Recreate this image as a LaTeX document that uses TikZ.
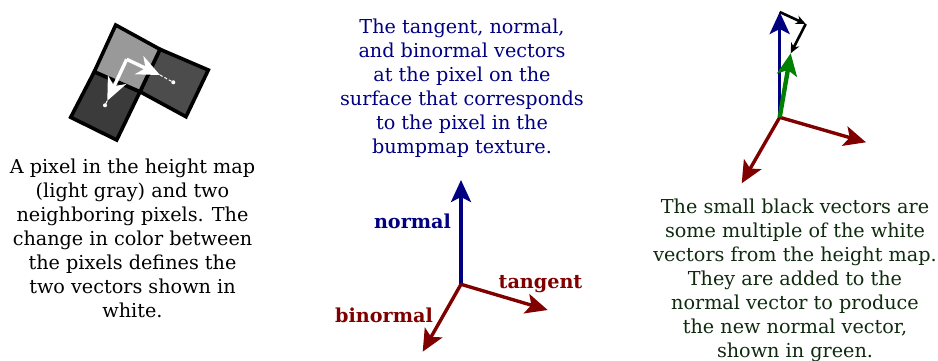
\documentclass[tikz,border=0pt]{standalone}
\usepackage{fontspec}
\setmainfont{DejaVu Serif}
\usetikzlibrary{arrows.meta}
\definecolor{navyblue}{HTML}{000080}
\definecolor{darkred}{HTML}{800000}
\definecolor{darkgreen}{HTML}{008000}
\definecolor{notetext}{HTML}{0F2A0F}
\tikzset{
  note/.style={align=center,inner sep=0pt,font=\fontsize{19.2}{24}\selectfont},
  axislabel/.style={inner sep=0pt,font=\fontsize{19.2}{24}\selectfont\bfseries},
  pixelbox/.style={draw=black,line width=3.6pt,line join=miter},
  whitevec/.style={draw=white,line width=3.4pt,-{Stealth[length=23pt,width=20pt,inset=7pt]}},
  axis/.style={line width=3.4pt,-{Stealth[length=22pt,width=20pt,inset=5pt]}},
  smallvec/.style={draw=black,line width=2.6pt,-{Stealth[length=10pt,width=9pt]}},
}
\begin{document}
\begin{tikzpicture}[x=1pt,y=-1pt]
  \useasboundingbox (0,0) rectangle (938,360);
  \filldraw[pixelbox,fill=black!77] (94.3,71.7) -- (140,91.7) -- (116.7,140) -- (70.7,117.3) -- cycle;
  \filldraw[pixelbox,fill=black!70] (160,49.3) -- (208.3,70) -- (186,116.7) -- (140,91.7) -- cycle;
  \filldraw[pixelbox,fill=black!40] (115.7,25) -- (160,49.3) -- (140,91.7) -- (94.3,71.7) -- cycle;
  \coordinate (corner) at (126.7,59.3);
  \coordinate (tipright) at (160,75);
  \coordinate (tipdown) at (107.3,100.7);
  \fill[white] (173.3,82.3) coordinate (dotright) circle (2pt);
  \fill[white] (105,105.3) coordinate (dotdown) circle (2pt);
  \draw[white,line width=1pt,densely dashed] (tipright) -- (dotright);
  \draw[white,line width=1pt] (tipdown) -- (dotdown);
  \draw[whitevec] (corner) -- (tipright);
  \draw[whitevec] (corner) -- (tipdown);
  \node[note] (heightnote) at (132.5,238.5) {A pixel in the height map\\(light gray) and two\\neighboring pixels.  The\\change in color between\\the pixels defines the\\two vectors shown in\\white.};
  \node[note,text=navyblue] (tbnnote) at (462,88) {The tangent, normal,\\and binormal vectors\\at the pixel on the\\surface that corresponds\\to the pixel in the\\bumpmap texture.};
  \coordinate (origin) at (461,284.3);
  \coordinate (normaltip) at (461,180);
  \coordinate (tangenttip) at (547.7,310);
  \coordinate (binormaltip) at (422.7,351.7);
  \draw[axis,navyblue] (origin) -- (normaltip);
  \draw[axis,darkred] (origin) -- (tangenttip);
  \draw[axis,darkred] (origin) -- (binormaltip);
  \node[axislabel,text=navyblue] (normallabel) at (412.5,221.5) {normal};
  \node[axislabel,text=darkred] (tangentlabel) at (540.5,284) {tangent};
  \node[axislabel,text=darkred] (binormallabel) at (384,315) {binormal};
  \coordinate (neworigin) at (779.7,117.3);
  \coordinate (newnormaltip) at (779.7,12);
  \coordinate (newtangenttip) at (866,142.3);
  \coordinate (newbinormaltip) at (741.7,183.3);
  \coordinate (greentip) at (790.7,53.3);
  \coordinate (blackcorner) at (805.7,24);
  \draw[axis,navyblue] (neworigin) -- (newnormaltip);
  \draw[axis,darkred] (neworigin) -- (newtangenttip);
  \draw[axis,darkred] (neworigin) -- (newbinormaltip);
  \draw[axis,darkgreen,line width=4.4pt] (neworigin) -- (greentip);
  \draw[smallvec] (newnormaltip) -- (blackcorner);
  \draw[smallvec] (blackcorner) -- (greentip);
  \node[note,text=notetext] (resultnote) at (795,280) {The small black vectors are\\some multiple of the white\\vectors from the height map.\\They are added to the\\normal vector to produce\\the new normal vector,\\shown in green.};
\end{tikzpicture}
\end{document}
